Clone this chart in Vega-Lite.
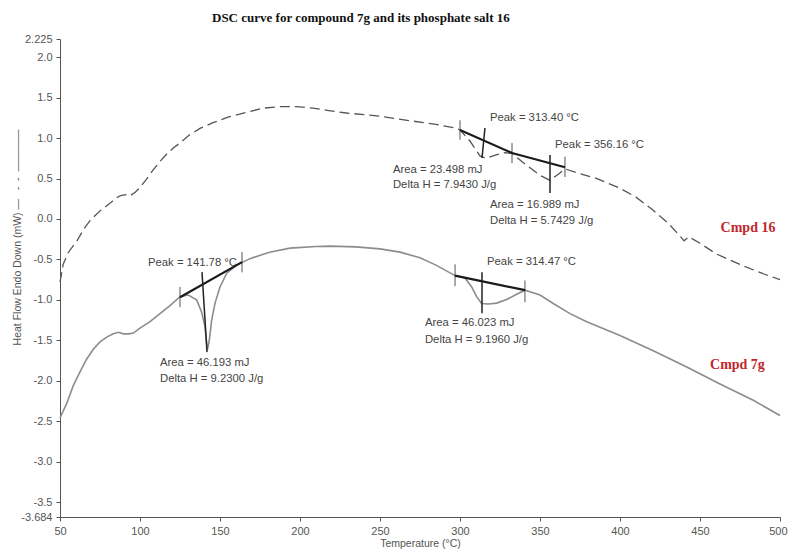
{
  "$schema": "https://vega.github.io/schema/vega-lite/v6.json",
  "autosize": {"type": "none"},
  "width": 720,
  "height": 478,
  "padding": {"left": 60, "top": 39, "right": 8, "bottom": 35},
  "background": "white",
  "title": {
    "text": "DSC curve for compound 7g and its phosphate salt 16",
    "anchor": "start",
    "frame": "group",
    "dx": 152,
    "dy": 12,
    "offset": 14,
    "baseline": "middle",
    "font": "Liberation Serif",
    "fontSize": 13,
    "fontWeight": "bold",
    "color": "#111111"
  },
  "config": {
    "view": {"stroke": null},
    "axis": {
      "grid": false,
      "domainColor": "#555555",
      "tickColor": "#555555",
      "labelColor": "#555555",
      "labelFont": "Liberation Sans",
      "labelFontSize": 11,
      "titleFont": "Liberation Sans",
      "titleFontSize": 10.5,
      "titleFontWeight": "normal",
      "titleColor": "#555555",
      "tickSize": 4,
      "labelOverlap": false,
      "labelFlush": false,
      "labelBound": false
    }
  },
  "datasets": {
    "curves": [
      {"series": "Cmpd 16", "T": 50, "v": -0.78},
      {"series": "Cmpd 16", "T": 52, "v": -0.56},
      {"series": "Cmpd 16", "T": 55, "v": -0.42},
      {"series": "Cmpd 16", "T": 60.6, "v": -0.27},
      {"series": "Cmpd 16", "T": 65, "v": -0.12},
      {"series": "Cmpd 16", "T": 68.75, "v": -0.02},
      {"series": "Cmpd 16", "T": 75, "v": 0.1},
      {"series": "Cmpd 16", "T": 81, "v": 0.19},
      {"series": "Cmpd 16", "T": 85, "v": 0.26},
      {"series": "Cmpd 16", "T": 88, "v": 0.29},
      {"series": "Cmpd 16", "T": 91, "v": 0.3},
      {"series": "Cmpd 16", "T": 94, "v": 0.29},
      {"series": "Cmpd 16", "T": 97, "v": 0.33},
      {"series": "Cmpd 16", "T": 100, "v": 0.39},
      {"series": "Cmpd 16", "T": 104, "v": 0.49},
      {"series": "Cmpd 16", "T": 108, "v": 0.6},
      {"series": "Cmpd 16", "T": 112, "v": 0.7},
      {"series": "Cmpd 16", "T": 117, "v": 0.81},
      {"series": "Cmpd 16", "T": 121, "v": 0.88},
      {"series": "Cmpd 16", "T": 125, "v": 0.94},
      {"series": "Cmpd 16", "T": 131, "v": 1.04},
      {"series": "Cmpd 16", "T": 137.5, "v": 1.12},
      {"series": "Cmpd 16", "T": 145.6, "v": 1.19},
      {"series": "Cmpd 16", "T": 155, "v": 1.26},
      {"series": "Cmpd 16", "T": 167, "v": 1.32},
      {"series": "Cmpd 16", "T": 177, "v": 1.37},
      {"series": "Cmpd 16", "T": 187.5, "v": 1.39},
      {"series": "Cmpd 16", "T": 198, "v": 1.39},
      {"series": "Cmpd 16", "T": 208, "v": 1.37},
      {"series": "Cmpd 16", "T": 218, "v": 1.34},
      {"series": "Cmpd 16", "T": 229, "v": 1.31},
      {"series": "Cmpd 16", "T": 240, "v": 1.29},
      {"series": "Cmpd 16", "T": 250, "v": 1.27},
      {"series": "Cmpd 16", "T": 260, "v": 1.24},
      {"series": "Cmpd 16", "T": 270.6, "v": 1.21},
      {"series": "Cmpd 16", "T": 285, "v": 1.17},
      {"series": "Cmpd 16", "T": 298, "v": 1.12},
      {"series": "Cmpd 16", "T": 300, "v": 1.1},
      {"series": "Cmpd 16", "T": 306, "v": 0.97},
      {"series": "Cmpd 16", "T": 312.5, "v": 0.78},
      {"series": "Cmpd 16", "T": 316, "v": 0.75},
      {"series": "Cmpd 16", "T": 322, "v": 0.79},
      {"series": "Cmpd 16", "T": 328, "v": 0.82},
      {"series": "Cmpd 16", "T": 332.5, "v": 0.81},
      {"series": "Cmpd 16", "T": 340.6, "v": 0.68},
      {"series": "Cmpd 16", "T": 350, "v": 0.54},
      {"series": "Cmpd 16", "T": 356, "v": 0.48},
      {"series": "Cmpd 16", "T": 360.6, "v": 0.54},
      {"series": "Cmpd 16", "T": 365.6, "v": 0.62},
      {"series": "Cmpd 16", "T": 375, "v": 0.56},
      {"series": "Cmpd 16", "T": 385.6, "v": 0.5},
      {"series": "Cmpd 16", "T": 400, "v": 0.38},
      {"series": "Cmpd 16", "T": 410, "v": 0.27},
      {"series": "Cmpd 16", "T": 420, "v": 0.12},
      {"series": "Cmpd 16", "T": 430, "v": -0.05},
      {"series": "Cmpd 16", "T": 437, "v": -0.2},
      {"series": "Cmpd 16", "T": 440, "v": -0.27},
      {"series": "Cmpd 16", "T": 443, "v": -0.22},
      {"series": "Cmpd 16", "T": 450, "v": -0.3},
      {"series": "Cmpd 16", "T": 460, "v": -0.43},
      {"series": "Cmpd 16", "T": 477, "v": -0.58},
      {"series": "Cmpd 16", "T": 490, "v": -0.68},
      {"series": "Cmpd 16", "T": 500, "v": -0.75},
      {"series": "Cmpd 7g", "T": 50, "v": -2.46},
      {"series": "Cmpd 7g", "T": 54.2, "v": -2.28},
      {"series": "Cmpd 7g", "T": 58.3, "v": -2.06},
      {"series": "Cmpd 7g", "T": 62.5, "v": -1.89},
      {"series": "Cmpd 7g", "T": 66.7, "v": -1.73},
      {"series": "Cmpd 7g", "T": 70.8, "v": -1.61},
      {"series": "Cmpd 7g", "T": 75, "v": -1.52},
      {"series": "Cmpd 7g", "T": 79.2, "v": -1.46},
      {"series": "Cmpd 7g", "T": 83.3, "v": -1.42},
      {"series": "Cmpd 7g", "T": 86.5, "v": -1.4},
      {"series": "Cmpd 7g", "T": 89.6, "v": -1.42},
      {"series": "Cmpd 7g", "T": 92.7, "v": -1.42},
      {"series": "Cmpd 7g", "T": 95.8, "v": -1.41},
      {"series": "Cmpd 7g", "T": 100, "v": -1.35},
      {"series": "Cmpd 7g", "T": 106.25, "v": -1.27},
      {"series": "Cmpd 7g", "T": 112.5, "v": -1.17},
      {"series": "Cmpd 7g", "T": 118.75, "v": -1.07},
      {"series": "Cmpd 7g", "T": 125, "v": -0.96},
      {"series": "Cmpd 7g", "T": 130.2, "v": -0.94},
      {"series": "Cmpd 7g", "T": 135.4, "v": -1.0},
      {"series": "Cmpd 7g", "T": 138.5, "v": -1.15},
      {"series": "Cmpd 7g", "T": 140.6, "v": -1.33},
      {"series": "Cmpd 7g", "T": 142.1, "v": -1.62},
      {"series": "Cmpd 7g", "T": 143.3, "v": -1.5},
      {"series": "Cmpd 7g", "T": 144.8, "v": -1.25},
      {"series": "Cmpd 7g", "T": 146.9, "v": -1.04},
      {"series": "Cmpd 7g", "T": 150, "v": -0.84},
      {"series": "Cmpd 7g", "T": 154.2, "v": -0.67},
      {"series": "Cmpd 7g", "T": 160.4, "v": -0.57},
      {"series": "Cmpd 7g", "T": 168.75, "v": -0.49},
      {"series": "Cmpd 7g", "T": 181, "v": -0.41},
      {"series": "Cmpd 7g", "T": 193.75, "v": -0.36},
      {"series": "Cmpd 7g", "T": 210, "v": -0.34},
      {"series": "Cmpd 7g", "T": 218.75, "v": -0.335},
      {"series": "Cmpd 7g", "T": 235, "v": -0.345},
      {"series": "Cmpd 7g", "T": 250, "v": -0.37},
      {"series": "Cmpd 7g", "T": 262.5, "v": -0.41},
      {"series": "Cmpd 7g", "T": 275, "v": -0.48},
      {"series": "Cmpd 7g", "T": 285, "v": -0.57},
      {"series": "Cmpd 7g", "T": 296.9, "v": -0.7},
      {"series": "Cmpd 7g", "T": 303.1, "v": -0.73},
      {"series": "Cmpd 7g", "T": 307.3, "v": -0.84},
      {"series": "Cmpd 7g", "T": 310.4, "v": -0.96},
      {"series": "Cmpd 7g", "T": 313.5, "v": -1.045},
      {"series": "Cmpd 7g", "T": 317.7, "v": -1.05},
      {"series": "Cmpd 7g", "T": 322.9, "v": -1.04},
      {"series": "Cmpd 7g", "T": 329.2, "v": -0.995},
      {"series": "Cmpd 7g", "T": 335.4, "v": -0.93},
      {"series": "Cmpd 7g", "T": 340.6, "v": -0.88},
      {"series": "Cmpd 7g", "T": 350, "v": -0.94},
      {"series": "Cmpd 7g", "T": 358.3, "v": -1.045},
      {"series": "Cmpd 7g", "T": 368.75, "v": -1.17},
      {"series": "Cmpd 7g", "T": 379.2, "v": -1.27},
      {"series": "Cmpd 7g", "T": 400, "v": -1.44},
      {"series": "Cmpd 7g", "T": 420.8, "v": -1.63},
      {"series": "Cmpd 7g", "T": 441.7, "v": -1.83},
      {"series": "Cmpd 7g", "T": 462.5, "v": -2.04},
      {"series": "Cmpd 7g", "T": 483.3, "v": -2.24},
      {"series": "Cmpd 7g", "T": 500, "v": -2.43}
    ],
    "segments": [
      {"kind": "baseline", "T": 125, "v": -0.967, "T2": 163.75, "v2": -0.533},
      {"kind": "baseline", "T": 296.9, "v": -0.7, "T2": 340.6, "v2": -0.88},
      {"kind": "baseline", "T": 300, "v": 1.1, "T2": 332.5, "v2": 0.816},
      {"kind": "baseline", "T": 332.5, "v": 0.816, "T2": 365.6, "v2": 0.64},
      {"kind": "peak", "T": 138.75, "v": -0.657, "T2": 141.9, "v2": -1.646},
      {"kind": "peak", "T": 313.75, "v": -0.657, "T2": 313.75, "v2": -1.165},
      {"kind": "peak", "T": 315.6, "v": 1.125, "T2": 313.75, "v2": 0.754},
      {"kind": "peak", "T": 356.25, "v": 0.79, "T2": 356.25, "v2": 0.32},
      {"kind": "marker", "T": 125, "v": -0.84, "T2": 125, "v2": -1.09},
      {"kind": "marker", "T": 163.75, "v": -0.41, "T2": 163.75, "v2": -0.66},
      {"kind": "marker", "T": 296.9, "v": -0.56, "T2": 296.9, "v2": -0.83},
      {"kind": "marker", "T": 340.6, "v": -0.76, "T2": 340.6, "v2": -1.03},
      {"kind": "marker", "T": 300, "v": 1.22, "T2": 300, "v2": 0.98},
      {"kind": "marker", "T": 332.5, "v": 0.94, "T2": 332.5, "v2": 0.69},
      {"kind": "marker", "T": 365.6, "v": 0.77, "T2": 365.6, "v2": 0.52}
    ],
    "notes": [
      {"label": "Peak = 141.78 °C", "T": 105, "v": -0.546},
      {"label": "Area = 46.193 mJ", "T": 112.5, "v": -1.78},
      {"label": "Delta H = 9.2300 J/g", "T": 112.5, "v": -1.98},
      {"label": "Peak = 314.47 °C", "T": 316.9, "v": -0.53},
      {"label": "Area = 46.023 mJ", "T": 278.1, "v": -1.29},
      {"label": "Delta H = 9.1960 J/g", "T": 278.1, "v": -1.49},
      {"label": "Peak = 313.40 °C", "T": 318.75, "v": 1.25},
      {"label": "Peak = 356.16 °C", "T": 359.4, "v": 0.91},
      {"label": "Area = 23.498 mJ", "T": 258.1, "v": 0.61},
      {"label": "Delta H = 7.9430 J/g", "T": 258.1, "v": 0.42},
      {"label": "Area = 16.989 mJ", "T": 318.75, "v": 0.17},
      {"label": "Delta H = 5.7429 J/g", "T": 318.75, "v": -0.02}
    ],
    "tags": [
      {"label": "Cmpd 16", "T": 480, "v": -0.11},
      {"label": "Cmpd 7g", "T": 473.4, "v": -1.81}
    ]
  },
  "encoding": {
    "x": {
      "field": "T",
      "type": "quantitative",
      "scale": {"domain": [50, 500], "nice": false, "zero": false},
      "axis": {
        "title": "Temperature (°C)",
        "values": [50, 100, 150, 200, 250, 300, 350, 400, 450, 500],
        "labelAlign": {"condition": {"test": "datum.value === 500", "value": "right"}, "value": "center"},
        "labelOffset": {"condition": {"test": "datum.value === 500", "value": 7}, "value": 0},
        "labelPadding": 4,
        "titlePadding": 2
      }
    },
    "y": {
      "field": "v",
      "type": "quantitative",
      "scale": {"domain": [-3.684, 2.225], "nice": false, "zero": false},
      "axis": {
        "title": "Heat Flow Endo Down (mW) —\u00a0\u00a0\u00a0-\u00a0\u00a0-\u00a0\u00a0————",
        "values": [-3.684, -3.5, -3, -2.5, -2, -1.5, -1, -0.5, 0, 0.5, 1, 1.5, 2, 2.225],
        "labelExpr": "replace(abs(datum.value*2-round(datum.value*2))>0.001 ? format(datum.value,'.3f') : format(datum.value,'.1f'), '\u2212', '-')",
        "labelPadding": 4,
        "titleX": -43,
        "titleY": 198,
        "titleBaseline": "middle",
        "titleAngle": 270
      }
    }
  },
  "layer": [
    {
      "data": {"name": "curves"},
      "transform": [{"filter": "datum.series === 'Cmpd 16'"}],
      "mark": {"type": "line", "color": "#555555", "strokeWidth": 1.3, "strokeDash": [10, 5]}
    },
    {
      "data": {"name": "curves"},
      "transform": [{"filter": "datum.series === 'Cmpd 7g'"}],
      "mark": {"type": "line", "color": "#8c8c8c", "strokeWidth": 1.6}
    },
    {
      "data": {"name": "segments"},
      "transform": [{"filter": "datum.kind === 'marker'"}],
      "mark": {"type": "rule", "color": "#555555", "strokeWidth": 1},
      "encoding": {"x2": {"field": "T2"}, "y2": {"field": "v2"}}
    },
    {
      "data": {"name": "segments"},
      "transform": [{"filter": "datum.kind === 'baseline'"}],
      "mark": {"type": "rule", "color": "#1a1a1a", "strokeWidth": 2.2},
      "encoding": {"x2": {"field": "T2"}, "y2": {"field": "v2"}}
    },
    {
      "data": {"name": "segments"},
      "transform": [{"filter": "datum.kind === 'peak'"}],
      "mark": {"type": "rule", "color": "#222222", "strokeWidth": 1.5},
      "encoding": {"x2": {"field": "T2"}, "y2": {"field": "v2"}}
    },
    {
      "data": {"name": "notes"},
      "mark": {"type": "text", "align": "left", "baseline": "middle", "font": "Liberation Sans", "fontSize": 11.3, "color": "#444444"},
      "encoding": {"text": {"field": "label"}}
    },
    {
      "data": {"name": "tags"},
      "mark": {"type": "text", "align": "center", "baseline": "middle", "font": "Liberation Serif", "fontSize": 14, "fontWeight": "bold", "color": "#c1272d"},
      "encoding": {"text": {"field": "label"}}
    }
  ]
}
